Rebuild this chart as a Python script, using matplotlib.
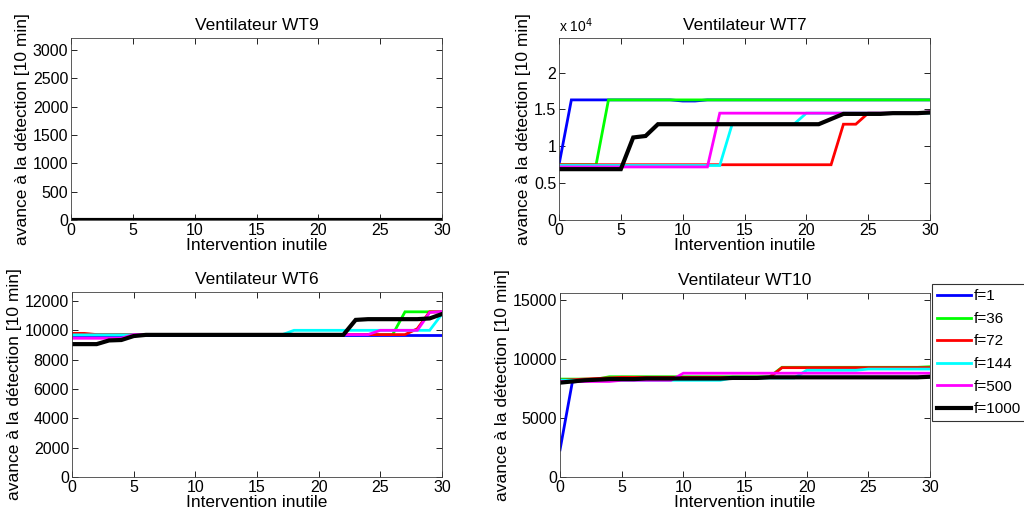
import matplotlib
matplotlib.use("Agg")
import matplotlib.pyplot as plt
from matplotlib.ticker import FuncFormatter
import numpy as np

plt.rcParams['font.family'] = ['Liberation Sans', 'DejaVu Sans']

x = list(range(31))
labels = ["f=1", "f=36", "f=72", "f=144", "f=500", "f=1000"]
colors = ["#0000ff", "#00ff00", "#ff0000", "#00ffff", "#ff00ff", "#000000"]
widths = [2.0, 2.0, 2.0, 2.0, 2.0, 3.0]

titles = ["Ventilateur WT9", "Ventilateur WT7", "Ventilateur WT6", "Ventilateur WT10"]
xlabel = "Intervention inutile"
ylabel = "avance à la détection [10 min]"

# WT9: all zeros
wt9 = [[0] * 31 for _ in range(6)]

# WT7
wt7_f1 = [7500] + [16300] * 9 + [16150, 16150] + [16300] * 19
wt7_f36 = [7500] * 4 + [16300] * 27
wt7_f72 = [7500] * 23 + [13000, 13000] + [14500] * 6
wt7_f144 = [7400] * 14 + [13000] * 6 + [14500] * 11
wt7_f500 = [7200] * 13 + [14500] * 17 + [14700]
wt7_f1000 = [6900] * 6 + [11200, 11400] + [13000] * 14 + [13700, 14400, 14400, 14400, 14400, 14500, 14500, 14500, 14600]
wt7 = [wt7_f1, wt7_f36, wt7_f72, wt7_f144, wt7_f500, wt7_f1000]

# WT6
wt6_f1 = [9700] * 31
wt6_f36 = [9700] * 27 + [11250] * 4
wt6_f72 = [9780, 9780] + [9700] * 26 + [10100, 11250, 11250]
wt6_f144 = [9680] * 18 + [9990] * 12 + [11100]
wt6_f500 = [9450] * 5 + [9700] * 20 + [9990] * 4 + [11200, 11270]
wt6_f1000 = [9050, 9050, 9050, 9300, 9330, 9600] + [9680] * 17 + [10700, 10750, 10750, 10750, 10750, 10750, 10800, 11100]
wt6 = [wt6_f1, wt6_f36, wt6_f72, wt6_f144, wt6_f500, wt6_f1000]

# WT10
wt10_f1 = [2300, 8050, 8150, 8250, 8300, 8300, 8300, 8350, 8350, 8350, 8350, 8350,
           8350, 8350, 8400, 8400, 8400, 8450, 8450, 8450, 8450, 8450, 8450, 8450,
           8450, 8450, 8450, 8450, 8450, 8450, 8500]
wt10_f36 = [8300] * 4 + [8500] * 14 + [9300] * 12 + [9350]
wt10_f72 = [8200, 8250, 8300, 8350, 8400] + [8450] * 13 + [9270] * 13
wt10_f144 = [8200] * 14 + [8400] * 6 + [9050] * 5 + [9150] * 6
wt10_f500 = [8100] * 5 + [8200] * 5 + [8800] * 21
wt10_f1000 = [8000, 8100, 8200, 8250, 8300, 8300, 8300, 8350, 8350, 8350, 8350, 8350,
              8350, 8350, 8400, 8400, 8400, 8450, 8450, 8450, 8450, 8450, 8450, 8450,
              8450, 8450, 8450, 8450, 8450, 8450, 8500]
wt10 = [wt10_f1, wt10_f36, wt10_f72, wt10_f144, wt10_f500, wt10_f1000]

datasets = [wt9, wt7, wt6, wt10]
ylims = [3210, 24700, 12600, 15600]
ysteps = [500, 5000, 2000, 5000]
ymaxtick = [3000, 20000, 12000, 15000]

fig = plt.figure(figsize=(10.24, 5.13), dpi=100)
positions = [
    [71 / 1024, 1 - 220 / 513, 371 / 1024, 182 / 513],
    [559 / 1024, 1 - 220 / 513, 371 / 1024, 182 / 513],
    [72 / 1024, 1 - 477 / 513, 370 / 1024, 185 / 513],
    [560 / 1024, 1 - 477 / 513, 370 / 1024, 184 / 513],
]

axes = []
for i, pos in enumerate(positions):
    ax = fig.add_axes(pos)
    axes.append(ax)
    for s in range(6):
        ax.plot(x, datasets[i][s], color=colors[s], lw=widths[s], label=labels[s],
                solid_joinstyle='miter')
    ax.set_xlim(0, 30)
    ax.set_ylim(0, ylims[i])
    ax.set_xticks(range(0, 31, 5))
    ax.set_yticks(np.arange(0, ymaxtick[i] + 1, ysteps[i]))
    ax.tick_params(direction='in', top=True, right=True, length=4, width=0.6,
                   labelsize=11.5, pad=2)
    for sp in ax.spines.values():
        sp.set_linewidth(0.6)
        sp.set_color('#404040')
    ax.set_title(titles[i], fontsize=12.5, pad=6)
    ax.set_xlabel(xlabel, fontsize=12.5, labelpad=0)
    ax.set_ylabel(ylabel, fontsize=12.5, labelpad=2)

axes[1].yaxis.set_major_formatter(FuncFormatter(lambda v, p: "%g" % (v / 1e4)))
axes[1].text(0.0, 1.015, "x 10$^{4}$", transform=axes[1].transAxes, fontsize=10,
             ha='left', va='bottom')

leg = axes[3].legend(loc='upper left', bbox_to_anchor=(1.005, 1.049), fontsize=11,
                     frameon=True, fancybox=False, edgecolor='black', handlelength=2.2,
                     handletextpad=0.2, borderpad=0.35, labelspacing=0.56,
                     borderaxespad=0)
leg.get_frame().set_linewidth(0.8)

fig.savefig("out.png", dpi=100)
